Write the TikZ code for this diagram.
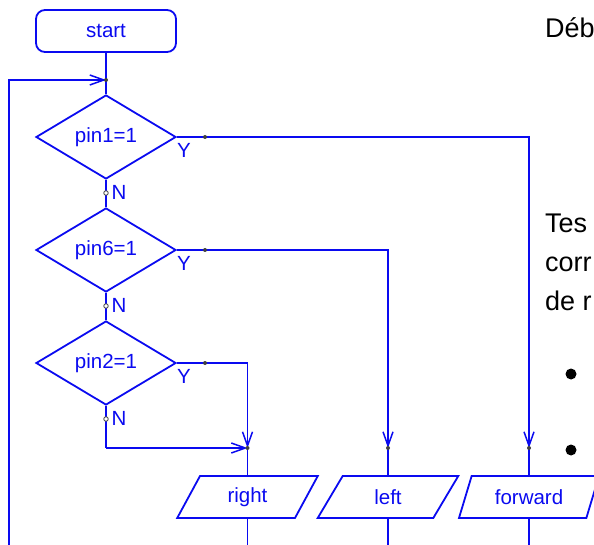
\documentclass[tikz,border=0pt]{standalone}
\usepackage{fontspec}
\setmainfont{Liberation Sans}
\usetikzlibrary{shapes.geometric,arrows.meta}
\definecolor{flow}{RGB}{10,10,240}
\newcommand{\dn}[1]{\lower1.5pt\hbox{#1}}
\tikzset{
  flowline/.style={draw=flow,line width=1.8pt},
  arr/.style={flowline,-{Straight Barb[length=14pt,width=10pt,line width=1.5pt]}},
  flowfont/.style={font=\fontsize{20.5}{22}\selectfont},
  startbox/.style={draw=flow,line width=1.8pt,rounded corners=9pt,minimum width=140pt,minimum height=42pt,text=flow,flowfont,inner sep=0pt},
  test/.style={draw=flow,line width=1.8pt,diamond,aspect=1.667,minimum width=140pt,minimum height=84pt,inner sep=0pt,text=flow,flowfont},
  io/.style={draw=flow,line width=1.8pt,trapezium,trapezium left angle=63.4,trapezium right angle=116.6,trapezium stretches=true,minimum width=141pt,minimum height=42pt,inner sep=0pt,text=flow,flowfont},
  lbl/.style={text=flow,flowfont,inner sep=0pt},
  jdot/.style={fill=black!75,circle,inner sep=0pt,minimum size=4pt},
  ndot/.style={draw=black!75,fill=white,circle,inner sep=0pt,minimum size=4.5pt,line width=0.8pt},
  slide/.style={text=black,font=\fontsize{27}{29}\selectfont,inner sep=0pt,anchor=base west},
}
\begin{document}
\begin{tikzpicture}[x=1pt,y=-1pt]
\useasboundingbox (0,0) rectangle (594,545);
\clip (0,0) rectangle (594,545);

% text column of the slide
\node[slide] at (545,38) {Déb};
\node[slide] at (545,233) {Tes};
\node[slide] at (545,272) {corr};
\node[slide] at (545,310) {de r};
\fill (571,374) circle (5.5pt);
\fill (571,450) circle (5.5pt);

% blocks
\node[startbox] (start) at (106,31) {\dn{start}};
\node[test] (t1) at (106,137) {\dn{pin1=1}};
\node[test] (t2) at (106,250) {\dn{pin6=1}};
\node[test] (t3) at (106,363) {\dn{pin2=1}};
\node[io] (right) at (247.5,497) {\dn{right}};
\node[io] (left) at (388,497) {\dn{left}};
\node[io] (fwd) at (529,497) {\dn{forward}};

% junction points
\coordinate (loop) at (106,80);
\coordinate (lft) at (9,80);
\coordinate (lbot) at (9,545);
\coordinate (y1) at (205,137);
\coordinate (y2) at (205,250);
\coordinate (y3) at (205,363);
\coordinate (n1) at (106,193);
\coordinate (n2) at (106,306);
\coordinate (n3) at (106,419);
\coordinate (jr) at (247.5,448);
\coordinate (jl) at (388,448);
\coordinate (jf) at (529,448);
\coordinate (c3) at (106,448);
\coordinate (rb) at (247.5,545);
\coordinate (lb) at (388,545);
\coordinate (fb) at (529,545);

% connectors
\draw[flowline] (start) -- (t1);
\draw[arr] (lbot) -- (lft) -- (loop);
\draw[flowline] (t1) -- (t2);
\draw[flowline] (t2) -- (t3);
\draw[flowline] (t3.south) -- (c3);
\draw[arr] (c3) -- (jr);
\draw[flowline] (t1.east) -- (y1);
\draw[arr] (y1) -| (jf);
\draw[flowline] (t2.east) -- (y2);
\draw[arr] (y2) -| (jl);
\draw[flowline] (t3.east) -- (y3);
\draw[arr] (y3) -| (jr);
\draw[flowline] (jr) -- (right);
\draw[flowline] (jl) -- (left);
\draw[flowline] (jf) -- (fwd);
\draw[flowline] (right) -- (rb);
\draw[flowline] (left) -- (lb);
\draw[flowline] (fwd) -- (fb);

% branch labels
\node[lbl] at (184,150) {Y};
\node[lbl] at (184,263) {Y};
\node[lbl] at (184,376) {Y};
\node[lbl] at (119,192) {N};
\node[lbl] at (119,305) {N};
\node[lbl] at (119,418) {N};

% connection dots
\foreach \p in {loop,y1,y2,y3,jr,jl,jf} \node[jdot] at (\p) {};
\foreach \p in {n1,n2,n3} \node[ndot] at (\p) {};
\end{tikzpicture}
\end{document}
